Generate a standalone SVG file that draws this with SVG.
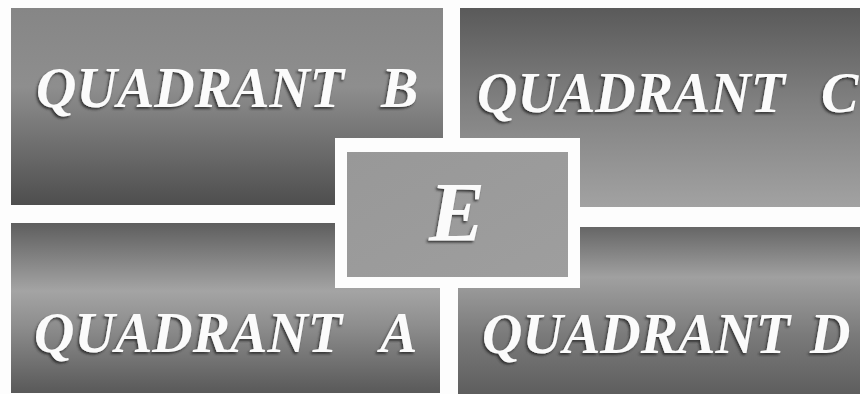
<svg xmlns="http://www.w3.org/2000/svg" width="860" height="394" viewBox="0 0 860 394">
  <defs>
    <linearGradient id="gB" x1="0" y1="0" x2="0" y2="1">
      <stop offset="0" stop-color="#868686"/>
      <stop offset="0.4" stop-color="#8e8e8e"/>
      <stop offset="1" stop-color="#4e4e4e"/>
    </linearGradient>
    <linearGradient id="gC" x1="0" y1="0" x2="0" y2="1">
      <stop offset="0" stop-color="#5a5a5a"/>
      <stop offset="0.45" stop-color="#7e7e7e"/>
      <stop offset="1" stop-color="#a2a2a2"/>
    </linearGradient>
    <linearGradient id="gA" x1="0" y1="0" x2="0" y2="1">
      <stop offset="0" stop-color="#5e5e5e"/>
      <stop offset="0.4" stop-color="#a4a4a4"/>
      <stop offset="0.6" stop-color="#8e8e8e"/>
      <stop offset="1" stop-color="#595959"/>
    </linearGradient>
    <linearGradient id="gD" x1="0" y1="0" x2="0" y2="1">
      <stop offset="0" stop-color="#666666"/>
      <stop offset="0.3" stop-color="#a0a0a0"/>
      <stop offset="0.65" stop-color="#7a7a7a"/>
      <stop offset="1" stop-color="#5e5e5e"/>
    </linearGradient>
    <linearGradient id="gE" x1="0" y1="0" x2="1" y2="1">
      <stop offset="0" stop-color="#989898"/>
      <stop offset="1" stop-color="#9e9e9e"/>
    </linearGradient>
    <filter id="emboss" x="-10%" y="-20%" width="120%" height="140%">
      <feDropShadow dx="-1.5" dy="2" stdDeviation="0.9" flood-color="#2a2a2a" flood-opacity="0.85"/>
    </filter>
  </defs>
  <style>
    .lbl { font-family: "Liberation Serif", "Times New Roman", serif; font-weight: bold; font-style: italic; fill: #fbfbfb; font-size: 56px; filter: url(#emboss); }
    .big { font-size: 84px; }
  </style>
  <rect x="0" y="0" width="860" height="394" fill="#fdfdfd"/>
  <g id="quadrant-b">
    <path d="M11,8 H443 V138 H335 V205 H11 Z" fill="url(#gB)"/>
    <text class="lbl" x="36" y="107">QUADRANT<tspan x="381">B</tspan></text>
  </g>
  <g id="quadrant-c">
    <path d="M460,8 H860 V207 H580 V138 H460 Z" fill="url(#gC)"/>
    <text class="lbl" x="477" y="112">QUADRANT<tspan x="821">C</tspan></text>
  </g>
  <g id="quadrant-a">
    <path d="M11,223 H335 V288 H440 V393 H11 Z" fill="url(#gA)"/>
    <text class="lbl" x="34" y="352">QUADRANT<tspan x="380">A</tspan></text>
  </g>
  <g id="quadrant-d">
    <path d="M580,227 H860 V394 H458 V288 H580 Z" fill="url(#gD)"/>
    <text class="lbl" x="482" y="353">QUADRANT<tspan x="810">D</tspan></text>
  </g>
  <g id="node-e">
    <rect x="347" y="152" width="221" height="125" fill="url(#gE)"/>
    <text class="lbl big" x="429" y="241">E</text>
  </g>
  <g id="connectors"/>
</svg>
